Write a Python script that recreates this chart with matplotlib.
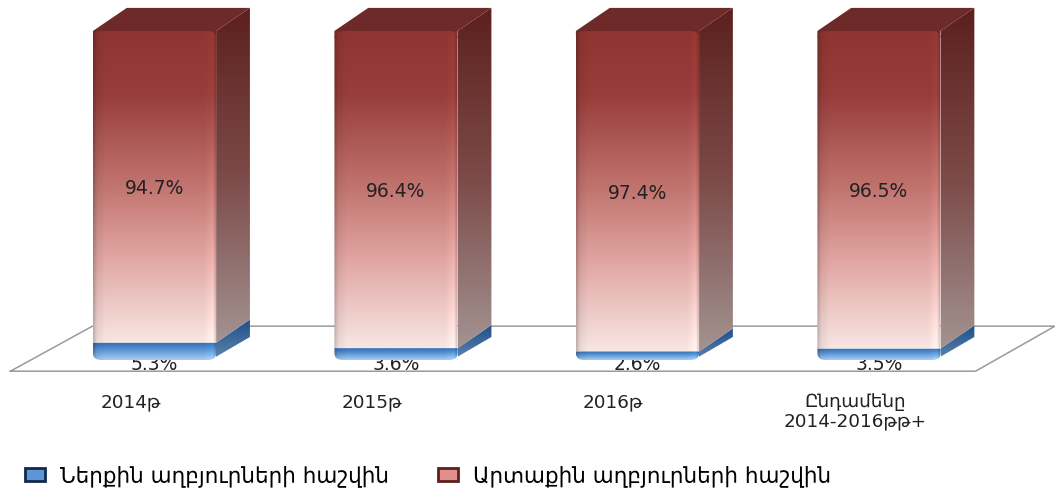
import matplotlib
matplotlib.use("Agg")
import matplotlib.pyplot as plt
import numpy as np
from matplotlib.colors import LinearSegmentedColormap
from matplotlib.patches import Patch, PathPatch, Polygon
from matplotlib.path import Path

categories = ["2014թ", "2015թ", "2016թ", "Ընդամենը\n2014-2016թթ+"]
internal = [5.3, 3.6, 2.6, 3.5]
external = [94.7, 96.4, 97.4, 96.5]
series_names = ["Ներքին աղբյուրների հաշվին", "Արտաքին աղբյուրների հաշվին"]

# bar shape in axis units
half_w = 0.255
depth_x = 0.14
depth_y = 7.0

red_front = LinearSegmentedColormap.from_list(
    "red_front", [(0, "#8f3431"), (0.2, "#973d3a"), (0.5, "#c27570"),
                  (0.72, "#e0a5a1"), (1, "#f8e6e3")])
red_side = LinearSegmentedColormap.from_list(
    "red_side", [(0, "#5c201d"), (0.5, "#7c4a48"), (1, "#a39391")])
blue_front = LinearSegmentedColormap.from_list(
    "blue_front", [(0, "#2f6bb0"), (0.45, "#5c96d6"), (1, "#a9cff2")])
blue_side = LinearSegmentedColormap.from_list(
    "blue_side", [(0, "#1d4f8c"), (1, "#5f86ab")])


def side_face(ax, cmap, extent, clip):
    img = cmap(np.linspace(0, 1, 256))[:, np.newaxis, :3]
    im = ax.imshow(img, extent=extent, aspect="auto", origin="upper",
                   interpolation="bilinear", zorder=3)
    im.set_clip_path(Polygon(clip, closed=True, transform=ax.transData,
                             facecolor="none", edgecolor="none"))


def front_outline(x0, x1, y0, y1, round_bottom, round_top):
    # front face outline with optional rounded corners
    rx, ry = 0.035, 2.0
    verts, codes = [], []
    if round_top:
        verts += [(x0 + rx, y1), (x0, y1), (x0, y1 - ry)]
        codes += [Path.MOVETO, Path.CURVE3, Path.CURVE3]
    else:
        verts += [(x0, y1)]
        codes += [Path.MOVETO]
    if round_bottom:
        verts += [(x0, y0 + ry), (x0, y0), (x0 + rx, y0),
                  (x1 - rx, y0), (x1, y0), (x1, y0 + ry)]
        codes += [Path.LINETO, Path.CURVE3, Path.CURVE3,
                  Path.LINETO, Path.CURVE3, Path.CURVE3]
    else:
        verts += [(x0, y0), (x1, y0)]
        codes += [Path.LINETO, Path.LINETO]
    if round_top:
        verts += [(x1, y1 - ry), (x1, y1), (x1 - rx, y1)]
        codes += [Path.LINETO, Path.CURVE3, Path.CURVE3]
    else:
        verts += [(x1, y1)]
        codes += [Path.LINETO]
    verts += [verts[0]]
    codes += [Path.CLOSEPOLY]
    return Path(verts, codes)


def front_face(ax, cmap, x0, x1, y0, y1, round_bottom=False, round_top=False):
    img = cmap(np.linspace(0, 1, 256))[:, np.newaxis, :3].repeat(128, axis=1)
    # bevel along the left and right edges
    prof = np.interp(np.linspace(0, 1, 128), [0, 0.03, 0.1, 0.9, 0.97, 1],
                     [0.78, 0.94, 1.0, 1.0, 1.07, 0.85])
    img = np.clip(img * prof[np.newaxis, :, np.newaxis], 0, 1)
    im = ax.imshow(img, extent=(x0, x1, y0, y1), aspect="auto", origin="upper",
                   interpolation="bilinear", zorder=4)
    im.set_clip_path(PathPatch(front_outline(x0, x1, y0, y1, round_bottom, round_top),
                               transform=ax.transData, facecolor="none", edgecolor="none"))


def main():
    fig = plt.figure(figsize=(10.55, 4.92), dpi=100, facecolor="white")
    ax = fig.add_axes([0, 0, 1, 1])

    x = np.arange(len(categories))
    xlim = (-0.64, 3.729)
    ylim = (-40.1, 109.4)

    # floor of the 3D plot
    fl_left, fl_right = -0.597, 3.4
    fl_front, fl_back = -3.4, 10.3
    floor_x = [fl_left, fl_right, xlim[1], fl_left + 0.34, fl_left]
    floor_y = [fl_front, fl_front, fl_back, fl_back, fl_front]
    ax.plot(floor_x, floor_y, color="#9a9a9a", lw=1.1, zorder=1)

    for i, xc in enumerate(x):
        x0, x1 = xc - half_w, xc + half_w
        low, top = internal[i], internal[i] + external[i]

        # data labels sit behind the bars, so the blue base clips the low ones
        ax.text(xc, -1.4, f"{internal[i]}%", ha="center", va="center",
                fontsize=13.5, color="#222222", zorder=2)

        # blue segment: side then front
        side = [(x1 - 0.012, 0.5), (x1 + depth_x, depth_y), (x1 + depth_x, low + depth_y),
                (x1, low)]
        side_face(ax, blue_side, (x1, x1 + depth_x, 0, low + depth_y), side)
        front_face(ax, blue_front, x0, x1, 0, low, round_bottom=True)

        # red segment: side, top, front
        side = [(x1, low), (x1 + depth_x, low + depth_y), (x1 + depth_x, top + depth_y),
                (x1, top)]
        side_face(ax, red_side, (x1, x1 + depth_x, low, top + depth_y), side)
        # top face runs a little below the front edge to fill the rounded corners
        ax.add_patch(Polygon([(x0, top - 2), (x0, top), (x0 + depth_x, top + depth_y),
                              (x1 + depth_x, top + depth_y), (x1, top), (x1, top - 2)],
                             closed=True, facecolor="#6d2a28", edgecolor="none", zorder=3))
        front_face(ax, red_front, x0, x1, low, top, round_top=True)

        ax.text(xc, low + external[i] / 2 - 0.6, f"{external[i]}%", ha="center",
                va="center", fontsize=13.5, color="#222222", zorder=6)

        # category labels are shifted left of the bars in the source chart
        ax.text(xc - 0.1, -10.0, categories[i], ha="center", va="top",
                fontsize=13.2, color="#222222", linespacing=1.1, zorder=6)

    handles = [Patch(facecolor="#5c96d6", edgecolor="#10294d", lw=2),
               Patch(facecolor="#e0908c", edgecolor="#5c201d", lw=2)]
    ax.legend(handles, series_names, loc="lower left", bbox_to_anchor=(0.007, -0.025),
              ncol=2, frameon=False, fontsize=15.5, handlelength=0.93, handleheight=0.55,
              handletextpad=0.7, columnspacing=2.3, borderpad=0.3)

    ax.set_xlim(*xlim)
    ax.set_ylim(*ylim)
    ax.axis("off")
    fig.savefig("out.png", dpi=100)


if __name__ == "__main__":
    main()
